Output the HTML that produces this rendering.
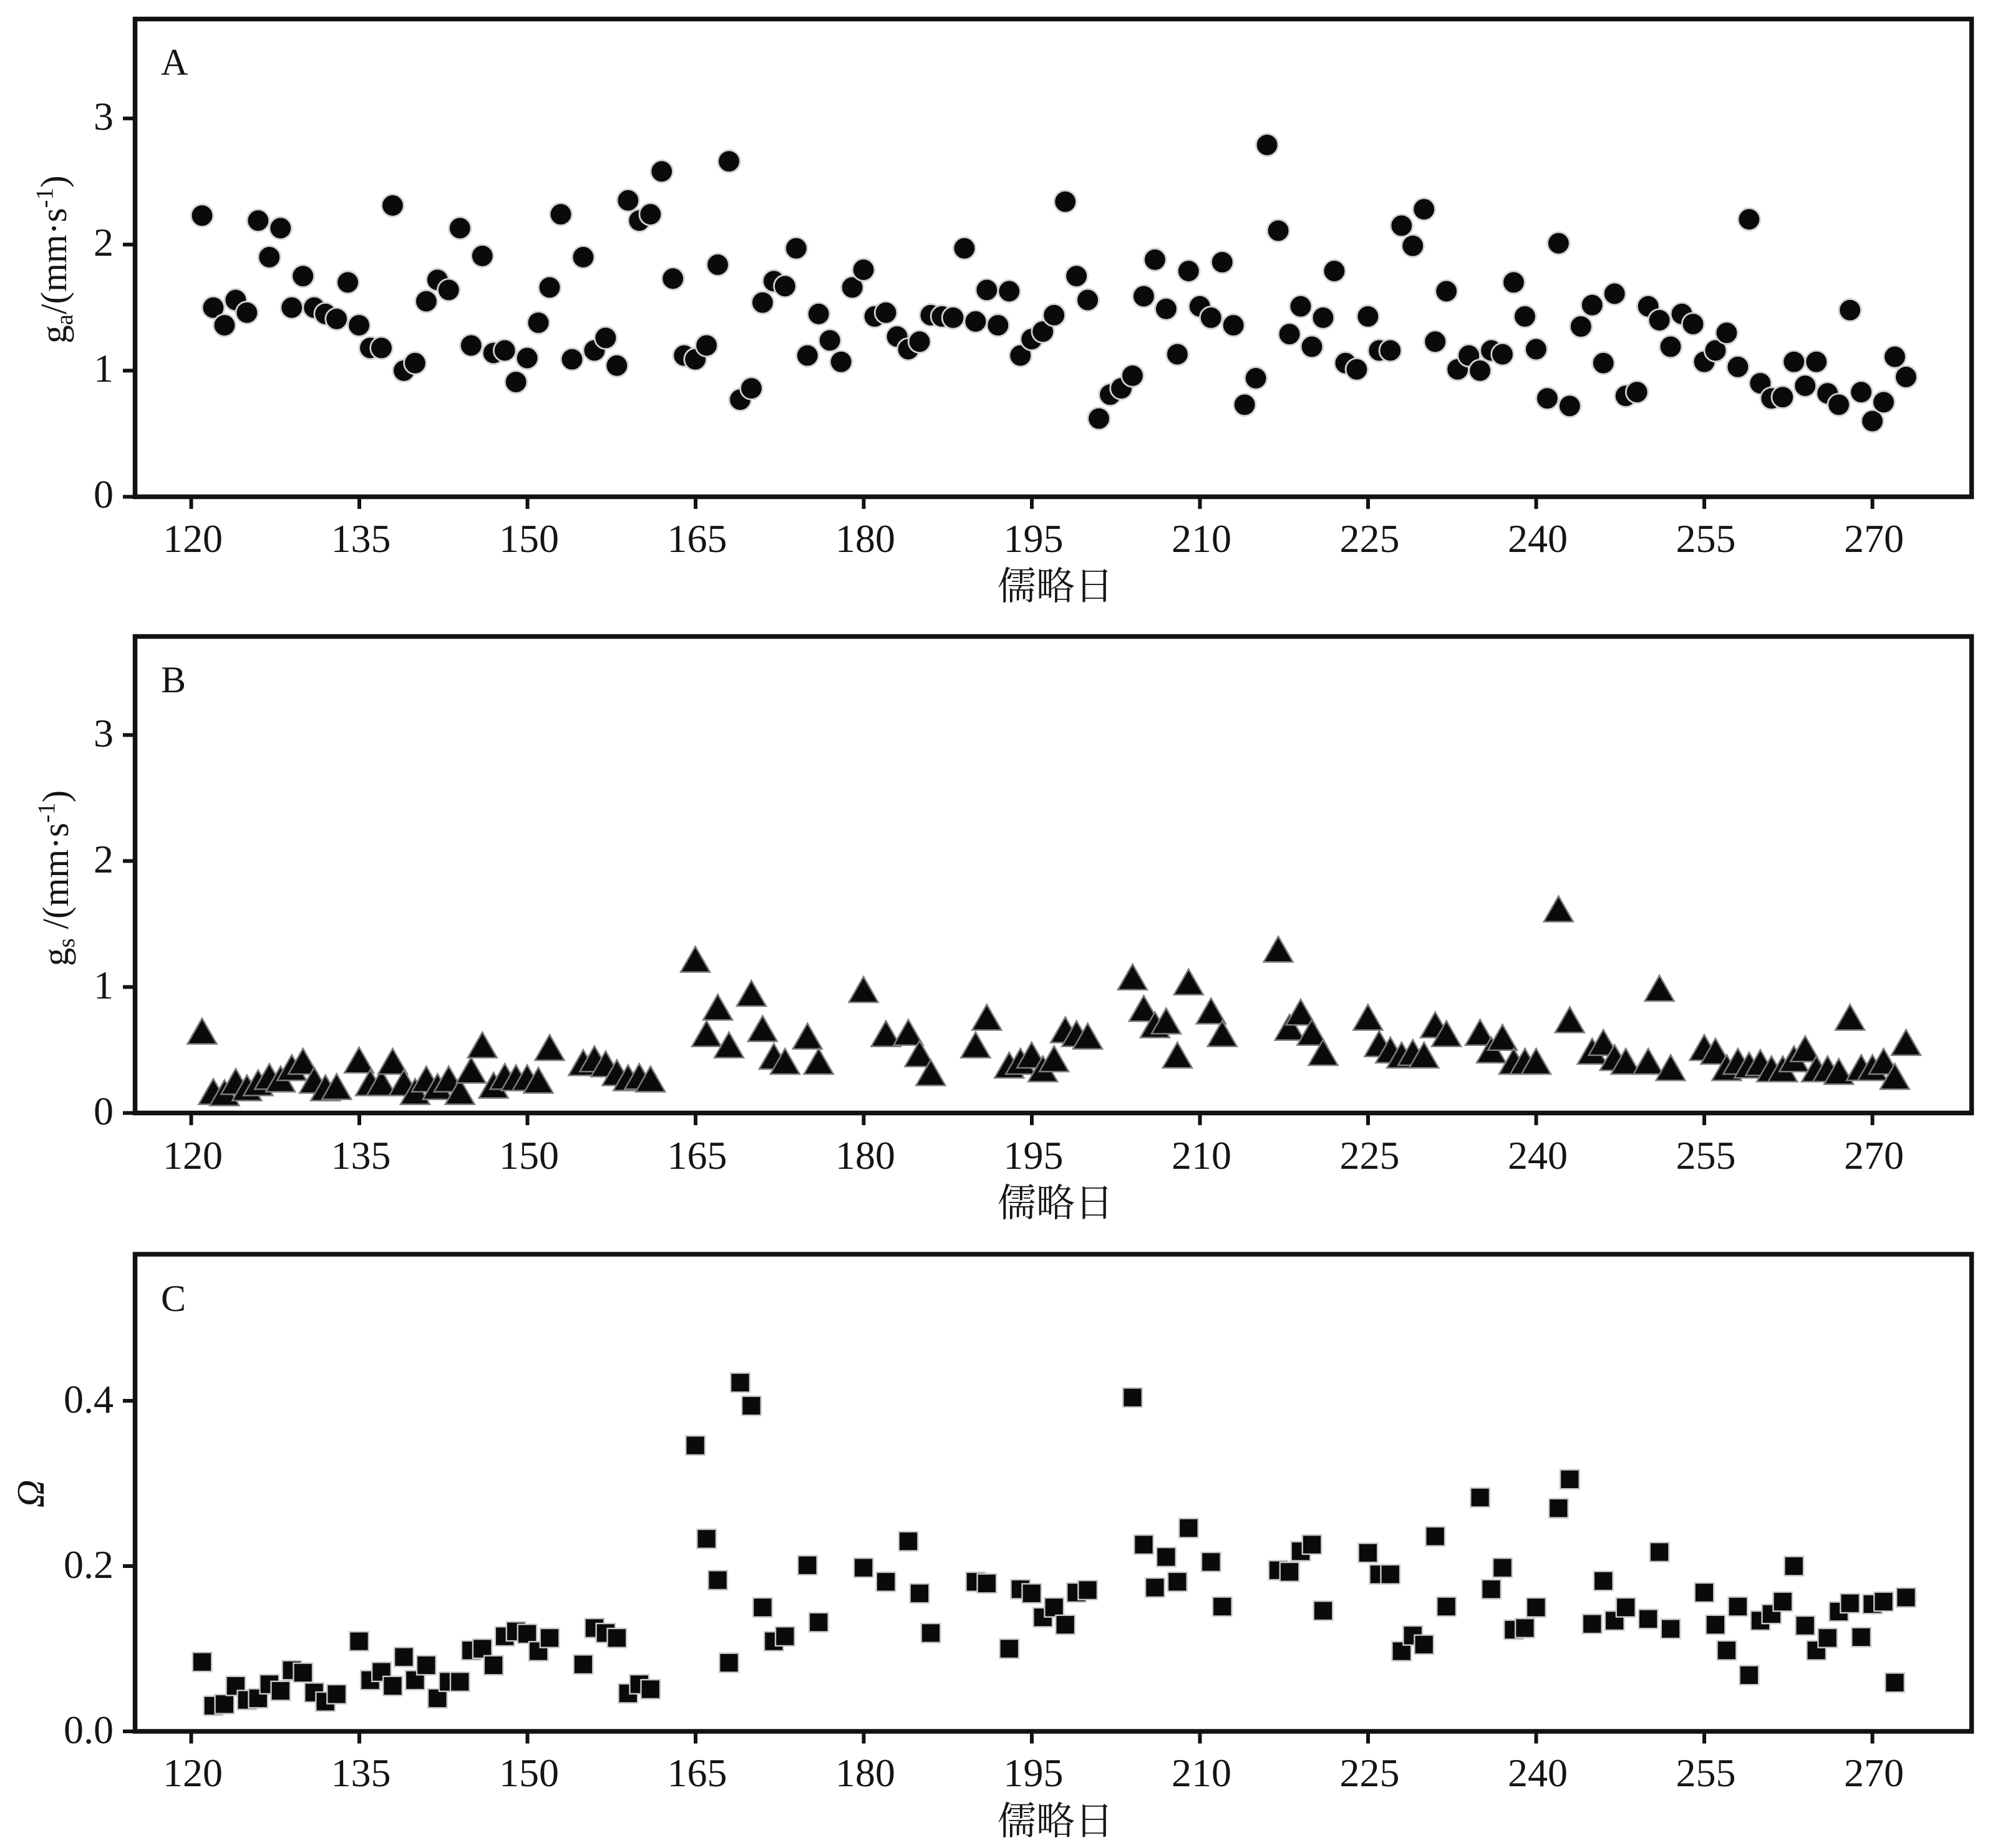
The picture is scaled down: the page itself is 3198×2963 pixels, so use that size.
<!DOCTYPE html>
<html>
<head>
<meta charset="utf-8">
<style>
  html, body { margin:0; padding:0; background:#ffffff; }
  svg { display:block; }
  text { font-family: "Liberation Serif", "Noto Serif CJK SC", serif; fill:#161412; }
  .cjk { font-family: "Liberation Serif", "Noto Serif CJK SC", serif; }
  marker { overflow: visible; }
</style>
</head>
<body>
<svg xmlns="http://www.w3.org/2000/svg" width="3198" height="2963" viewBox="0 0 3198 2963">
<rect x="0" y="0" width="3198" height="2963" fill="#ffffff"/>
<defs>
  <marker id="mA" markerUnits="userSpaceOnUse" markerWidth="1" markerHeight="1" refX="0" refY="0" overflow="visible" style="overflow:visible">
    <circle transform="scale(0.055648,-0.0049456)" cx="0" cy="0" r="17.8" fill="#0c0a08" stroke="#d2d2d2" stroke-width="2.8"/>
  </marker>
  <marker id="mB" markerUnits="userSpaceOnUse" markerWidth="1" markerHeight="1" refX="0" refY="0" overflow="visible" style="overflow:visible">
    <path transform="scale(0.055648,-0.0049505)" d="M0,-20.5 L23.5,20.5 L-23.5,20.5 Z" fill="#0c0a08" stroke="#7c7c7c" stroke-width="2.5"/>
  </marker>
  <marker id="mC" markerUnits="userSpaceOnUse" markerWidth="1" markerHeight="1" refX="0" refY="0" overflow="visible" style="overflow:visible">
    <rect transform="scale(0.055648,-0.00075472)" x="-15.3" y="-15.3" width="30.6" height="30.6" fill="#0c0a08" stroke="#c9c9c9" stroke-width="2.4"/>
  </marker>
</defs>

<!-- ================= PANEL A ================= -->
<g transform="translate(-1850.4,796.5) scale(17.97,-202.2)">
<polyline fill="none" stroke="none" marker-start="url(#mA)" marker-mid="url(#mA)" marker-end="url(#mA)" points="
121,2.23 122,1.50 123,1.36 124,1.56 125,1.46 126,2.19 127,1.90 128,2.13 129,1.50 130,1.75
131,1.50 132,1.45 133,1.41 134,1.70 135,1.36 136,1.18 137,1.18 138,2.31 139,1.00 140,1.06
141,1.55 142,1.72 143,1.64 144,2.13 145,1.20 146,1.91 147,1.14 148,1.16 149,0.91 150,1.10
151,1.38 152,1.66 153,2.24 154,1.09 155,1.90 156,1.16 157,1.26 158,1.04 159,2.35 160,2.19
161,2.24 162,2.58 163,1.73 164,1.12 165,1.09 166,1.20 167,1.84 168,2.66 169,0.77 170,0.86
171,1.54 172,1.71 173,1.67 174,1.97 175,1.12 176,1.45 177,1.24 178,1.07 179,1.66 180,1.80
181,1.43 182,1.46 183,1.27 184,1.17 185,1.23 186,1.44 187,1.43 188,1.42 189,1.97 190,1.39
191,1.64 192,1.36 193,1.63 194,1.12 195,1.25 196,1.31 197,1.44 198,2.34 199,1.75 200,1.56
201,0.62 202,0.81 203,0.86 204,0.96 205,1.59 206,1.88 207,1.49 208,1.13 209,1.79 210,1.51
211,1.42 212,1.86 213,1.36 214,0.73 215,0.94 216,2.79 217,2.11 218,1.29 219,1.51 220,1.19
221,1.42 222,1.79 223,1.06 224,1.01 225,1.43 226,1.16 227,1.16 228,2.15 229,1.99 230,2.28
231,1.23 232,1.63 233,1.01 234,1.12 235,1.00 236,1.16 237,1.13 238,1.70 239,1.43 240,1.17
241,0.78 242,2.01 243,0.72 244,1.35 245,1.52 246,1.06 247,1.61 248,0.80 249,0.83 250,1.51
251,1.40 252,1.19 253,1.45 254,1.37 255,1.07 256,1.16 257,1.30 258,1.03 259,2.20 260,0.90
261,0.78 262,0.79 263,1.07 264,0.88 265,1.07 266,0.82 267,0.73 268,1.48 269,0.83 270,0.60
271,0.75 272,1.11 273,0.95"/>
</g>

<rect x="216.5" y="30.5" width="2944" height="766" fill="none" stroke="#141210" stroke-width="7.5"/>
<g stroke="#141210" stroke-width="6">
  <line x1="197" y1="796.5" x2="216.5" y2="796.5"/>
  <line x1="197" y1="594.3" x2="216.5" y2="594.3"/>
  <line x1="197" y1="392.1" x2="216.5" y2="392.1"/>
  <line x1="197" y1="189.9" x2="216.5" y2="189.9"/>
  <line x1="306.5" y1="796.5" x2="306.5" y2="816"/>
  <line x1="576" y1="796.5" x2="576" y2="816"/>
  <line x1="845.5" y1="796.5" x2="845.5" y2="816"/>
  <line x1="1115" y1="796.5" x2="1115" y2="816"/>
  <line x1="1384.5" y1="796.5" x2="1384.5" y2="816"/>
  <line x1="1654" y1="796.5" x2="1654" y2="816"/>
  <line x1="1923.5" y1="796.5" x2="1923.5" y2="816"/>
  <line x1="2193" y1="796.5" x2="2193" y2="816"/>
  <line x1="2462.5" y1="796.5" x2="2462.5" y2="816"/>
  <line x1="2732" y1="796.5" x2="2732" y2="816"/>
  <line x1="3001.5" y1="796.5" x2="3001.5" y2="816"/>
</g>
<g font-size="64" text-anchor="end">
  <text x="182" y="814">0</text>
  <text x="182" y="612">1</text>
  <text x="182" y="410">2</text>
  <text x="182" y="208">3</text>
</g>
<g font-size="64" text-anchor="middle">
  <text x="309" y="885">120</text>
  <text x="578.5" y="885">135</text>
  <text x="848" y="885">150</text>
  <text x="1117.5" y="885">165</text>
  <text x="1387" y="885">180</text>
  <text x="1656.5" y="885">195</text>
  <text x="1926" y="885">210</text>
  <text x="2195.5" y="885">225</text>
  <text x="2465" y="885">240</text>
  <text x="2734.5" y="885">255</text>
  <text x="3004" y="885">270</text>
</g>
<text x="258" y="120" font-size="60">A</text>
<text class="cjk" x="1692" y="941" font-size="62" text-anchor="middle" dominant-baseline="central">儒略日</text>
<text transform="translate(106,416) rotate(-90)" font-size="59" text-anchor="middle">g<tspan font-size="39" dy="10">a</tspan><tspan dy="-10">/(mm·s</tspan><tspan font-size="39" dy="-22">-1</tspan><tspan dy="22">)</tspan></text>

<!-- ================= PANEL B ================= -->
<g transform="translate(-1850.4,1784.5) scale(17.97,-202)">
<polyline fill="none" stroke="none" marker-start="url(#mB)" marker-mid="url(#mB)" marker-end="url(#mB)" points="
121,0.65 122,0.17 123,0.16 124,0.25 125,0.20 126,0.24 127,0.29 128,0.27 129,0.36 130,0.41
131,0.26 132,0.20 133,0.21 135,0.42 136,0.24 137,0.24 138,0.41 139,0.24 140,0.17
141,0.27 142,0.21 143,0.27 144,0.17 145,0.34 146,0.54 147,0.22 148,0.29 149,0.28 150,0.28
151,0.26 152,0.52 155,0.40 156,0.43 157,0.39 158,0.32 159,0.28 160,0.29 161,0.27
165,1.22 166,0.63 167,0.84 168,0.54 170,0.95 171,0.67 172,0.45 173,0.41 175,0.61 176,0.41
180,0.98 182,0.63 184,0.64 185,0.47 186,0.32 190,0.54 191,0.76 193,0.38 194,0.41 195,0.46
196,0.35 197,0.43 198,0.66 199,0.63 200,0.61 204,1.08 205,0.83 206,0.70 207,0.73 208,0.46
209,1.04 211,0.81 212,0.63 217,1.30 218,0.68 219,0.80 220,0.64 221,0.48
225,0.76 226,0.55 227,0.50 228,0.46 229,0.48 230,0.46 231,0.70 232,0.63 235,0.64 236,0.50
237,0.60 238,0.41 239,0.41 240,0.41 242,1.62 243,0.74 245,0.49 246,0.56 247,0.44 248,0.41
250,0.41 251,0.99 252,0.36 255,0.52 256,0.49 257,0.36 258,0.41 259,0.38 260,0.40 261,0.35
262,0.35 263,0.43 264,0.51 265,0.35 266,0.35 267,0.33 268,0.76 269,0.36 270,0.36 271,0.41
272,0.29 273,0.56"/>
</g>

<rect x="216.5" y="1020.5" width="2944" height="764" fill="none" stroke="#141210" stroke-width="7.5"/>
<g stroke="#141210" stroke-width="6">
  <line x1="197" y1="1784.5" x2="216.5" y2="1784.5"/>
  <line x1="197" y1="1582.5" x2="216.5" y2="1582.5"/>
  <line x1="197" y1="1380.5" x2="216.5" y2="1380.5"/>
  <line x1="197" y1="1178.5" x2="216.5" y2="1178.5"/>
  <line x1="306.5" y1="1784.5" x2="306.5" y2="1804"/>
  <line x1="576" y1="1784.5" x2="576" y2="1804"/>
  <line x1="845.5" y1="1784.5" x2="845.5" y2="1804"/>
  <line x1="1115" y1="1784.5" x2="1115" y2="1804"/>
  <line x1="1384.5" y1="1784.5" x2="1384.5" y2="1804"/>
  <line x1="1654" y1="1784.5" x2="1654" y2="1804"/>
  <line x1="1923.5" y1="1784.5" x2="1923.5" y2="1804"/>
  <line x1="2193" y1="1784.5" x2="2193" y2="1804"/>
  <line x1="2462.5" y1="1784.5" x2="2462.5" y2="1804"/>
  <line x1="2732" y1="1784.5" x2="2732" y2="1804"/>
  <line x1="3001.5" y1="1784.5" x2="3001.5" y2="1804"/>
</g>
<g font-size="64" text-anchor="end">
  <text x="182" y="1803">0</text>
  <text x="182" y="1601">1</text>
  <text x="182" y="1399">2</text>
  <text x="182" y="1197">3</text>
</g>
<g font-size="64" text-anchor="middle">
  <text x="309" y="1874">120</text>
  <text x="578.5" y="1874">135</text>
  <text x="848" y="1874">150</text>
  <text x="1117.5" y="1874">165</text>
  <text x="1387" y="1874">180</text>
  <text x="1656.5" y="1874">195</text>
  <text x="1926" y="1874">210</text>
  <text x="2195.5" y="1874">225</text>
  <text x="2465" y="1874">240</text>
  <text x="2734.5" y="1874">255</text>
  <text x="3004" y="1874">270</text>
</g>
<text x="258" y="1110" font-size="60">B</text>
<text class="cjk" x="1692" y="1930" font-size="62" text-anchor="middle" dominant-baseline="central">儒略日</text>
<text transform="translate(109,1408) rotate(-90)" font-size="59" text-anchor="middle">g<tspan font-size="39" dy="10">s</tspan><tspan dy="-10"> /(mm·s</tspan><tspan font-size="39" dy="-22">-1</tspan><tspan dy="22">)</tspan></text>

<!-- ================= PANEL C ================= -->
<g transform="translate(-1850.4,2776) scale(17.97,-1325)">
<polyline fill="none" stroke="none" marker-start="url(#mC)" marker-mid="url(#mC)" marker-end="url(#mC)" points="
121,0.084 122,0.031 123,0.033 124,0.055 125,0.038 126,0.040 127,0.057 128,0.049 129,0.074 130,0.071
131,0.047 132,0.036 133,0.045 135,0.109 136,0.062 137,0.072 138,0.055 139,0.090 140,0.062
141,0.080 142,0.040 143,0.060 144,0.060 145,0.098 146,0.100 147,0.080 148,0.115 149,0.121 150,0.118
151,0.097 152,0.113 155,0.081 156,0.125 157,0.119 158,0.113 159,0.046 160,0.057 161,0.051
165,0.346 166,0.233 167,0.183 168,0.083 169,0.422 170,0.394 171,0.150 172,0.109 173,0.115 175,0.201
176,0.132 180,0.198 182,0.181 184,0.230 185,0.167 186,0.119 190,0.181 191,0.179 193,0.100 194,0.172
195,0.167 196,0.138 197,0.150 198,0.129 199,0.168 200,0.171 204,0.404 205,0.226 206,0.174 207,0.211
208,0.181 209,0.246 211,0.205 212,0.151 217,0.195 218,0.193 219,0.218 220,0.226 221,0.146
225,0.216 226,0.190 227,0.190 228,0.097 229,0.116 230,0.105 231,0.236 232,0.151 235,0.283 236,0.172
237,0.198 238,0.123 239,0.125 240,0.150 242,0.270 243,0.305 245,0.130 246,0.182 247,0.134 248,0.150
250,0.136 251,0.217 252,0.124 255,0.168 256,0.129 257,0.098 258,0.151 259,0.068 260,0.134 261,0.142
262,0.157 263,0.200 264,0.128 265,0.098 266,0.113 267,0.145 268,0.155 269,0.114 270,0.154 271,0.157
272,0.059 273,0.162"/>
</g>

<rect x="216.5" y="2011" width="2944" height="765" fill="none" stroke="#141210" stroke-width="7.5"/>
<g stroke="#141210" stroke-width="6">
  <line x1="197" y1="2776" x2="216.5" y2="2776"/>
  <line x1="197" y1="2511" x2="216.5" y2="2511"/>
  <line x1="197" y1="2246" x2="216.5" y2="2246"/>
  <line x1="306.5" y1="2776" x2="306.5" y2="2795.5"/>
  <line x1="576" y1="2776" x2="576" y2="2795.5"/>
  <line x1="845.5" y1="2776" x2="845.5" y2="2795.5"/>
  <line x1="1115" y1="2776" x2="1115" y2="2795.5"/>
  <line x1="1384.5" y1="2776" x2="1384.5" y2="2795.5"/>
  <line x1="1654" y1="2776" x2="1654" y2="2795.5"/>
  <line x1="1923.5" y1="2776" x2="1923.5" y2="2795.5"/>
  <line x1="2193" y1="2776" x2="2193" y2="2795.5"/>
  <line x1="2462.5" y1="2776" x2="2462.5" y2="2795.5"/>
  <line x1="2732" y1="2776" x2="2732" y2="2795.5"/>
  <line x1="3001.5" y1="2776" x2="3001.5" y2="2795.5"/>
</g>
<g font-size="64" text-anchor="end">
  <text x="182" y="2795">0.0</text>
  <text x="182" y="2530">0.2</text>
  <text x="182" y="2265">0.4</text>
</g>
<g font-size="64" text-anchor="middle">
  <text x="309" y="2864">120</text>
  <text x="578.5" y="2864">135</text>
  <text x="848" y="2864">150</text>
  <text x="1117.5" y="2864">165</text>
  <text x="1387" y="2864">180</text>
  <text x="1656.5" y="2864">195</text>
  <text x="1926" y="2864">210</text>
  <text x="2195.5" y="2864">225</text>
  <text x="2465" y="2864">240</text>
  <text x="2734.5" y="2864">255</text>
  <text x="3004" y="2864">270</text>
</g>
<text x="258" y="2102" font-size="60">C</text>
<text class="cjk" x="1692" y="2921" font-size="62" text-anchor="middle" dominant-baseline="central">儒略日</text>
<text transform="translate(70,2395) rotate(-90)" font-size="62" font-style="italic" text-anchor="middle">Ω</text>
</svg>
</body>
</html>
